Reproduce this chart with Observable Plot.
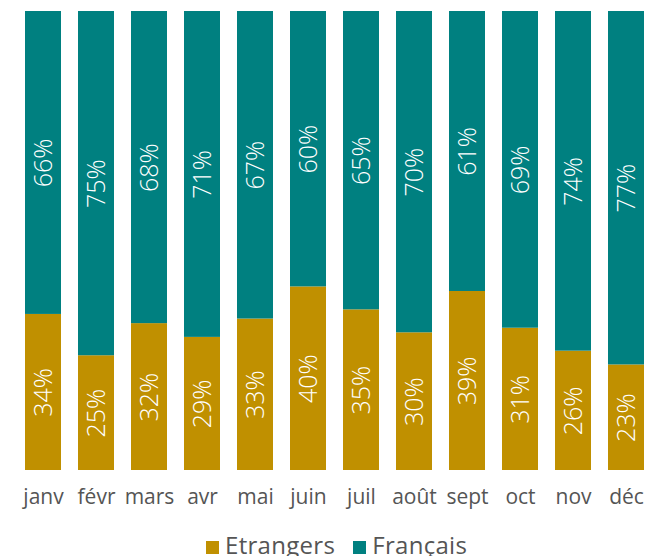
<!DOCTYPE html>
<html>
<head>
<meta charset="utf-8">
<script src="https://cdn.jsdelivr.net/npm/d3@7"></script>
<script src="https://cdn.jsdelivr.net/npm/@observablehq/plot@0.6"></script>
<style>
  body { margin: 0; background: #fff; font-family: "Open Sans", sans-serif; }
  #legend { display: flex; justify-content: flex-start; padding-left: 206px; gap: 18px; font-size: 24px; letter-spacing: 0.3px; color: #555; margin-top: 6px; line-height: 30px; }
  #legend .item { display: flex; align-items: center; }
  #legend .sw { width: 13px; height: 13px; margin-right: 6px; margin-top: 4px; }
</style>
</head>
<body>
<div id="chart"></div>
<div id="legend"></div>
<script>
const months = ["janv", "févr", "mars", "avr", "mai", "juin", "juil", "août", "sept", "oct", "nov", "déc"];
const etrangers = [34, 25, 32, 29, 33, 40, 35, 30, 39, 31, 26, 23];
const francais = [66, 75, 68, 71, 67, 60, 65, 70, 61, 69, 74, 77];
const series = ["Etrangers", "Français"];
const colors = ["#C09000", "#008080"];

const data = months.flatMap((m, i) => [
  {month: m, type: series[0], value: etrangers[i]},
  {month: m, type: series[1], value: francais[i]}
]);

const chart = Plot.plot({
  width: 648,
  height: 524,
  marginTop: 11,
  marginBottom: 54,
  marginLeft: 21,
  marginRight: 1,
  style: {fontFamily: "Open Sans, sans-serif", background: "white"},
  x: {domain: months, paddingInner: 0.33, paddingOuter: 0, label: null, tickSize: 0, tickPadding: 19},
  y: {domain: [0, 100], axis: null},
  color: {domain: series, range: colors},
  marks: [
    Plot.barY(data, Plot.stackY({x: "month", y: "value", fill: "type"})),
    Plot.text(data, Plot.stackY({x: "month", y: "value", text: d => d.value + "%", rotate: -90, fill: "white", fontSize: 25, fontWeight: 300})),
    Plot.axisX({tickSize: 0, tickPadding: 19, fontSize: 21, fill: "#555", label: null})
  ]
});
document.getElementById("chart").appendChild(chart);

const legend = document.getElementById("legend");
series.forEach((s, i) => {
  const item = document.createElement("div");
  item.className = "item";
  const sw = document.createElement("div");
  sw.className = "sw";
  sw.style.background = colors[i];
  const t = document.createElement("span");
  t.textContent = s;
  item.appendChild(sw);
  item.appendChild(t);
  legend.appendChild(item);
});
</script>
</body>
</html>
